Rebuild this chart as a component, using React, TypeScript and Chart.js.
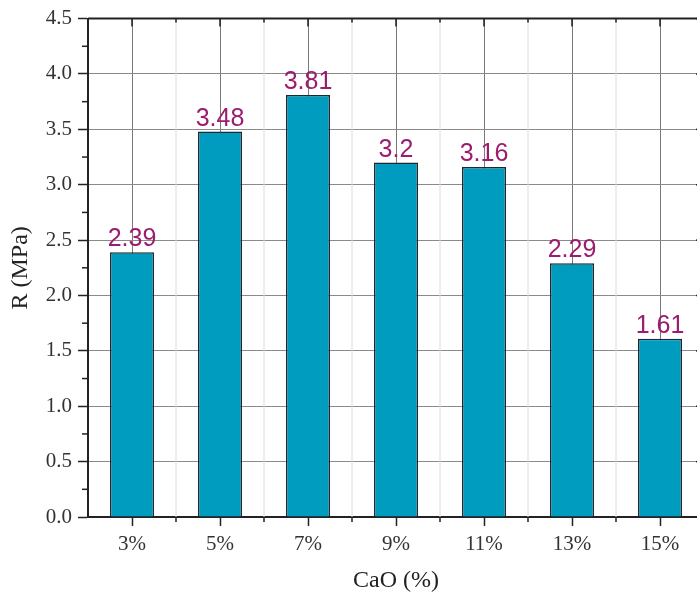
import React, { useEffect, useRef } from "react";
import { Chart, registerables } from "chart.js";

Chart.register(...registerables);

// CaO dosage vs. strength R
const categories = ["3%", "5%", "7%", "9%", "11%", "13%", "15%"];
const strength = [2.39, 3.48, 3.81, 3.2, 3.16, 2.29, 1.61];
const yTicks = [0, 0.5, 1, 1.5, 2, 2.5, 3, 3.5, 4, 4.5];

const AXIS = "#222222";
const SERIF = "'Liberation Serif', 'Times New Roman', serif";

// light lines between categories, minor ticks, top/right frame
const framePlugin = {
  id: "frame",
  beforeDatasetsDraw(chart: any) {
    const { ctx, chartArea: a, scales } = chart;
    const x = scales.x;
    ctx.save();
    ctx.strokeStyle = "#dcdcdc";
    ctx.lineWidth = 1;
    for (let i = 0; i < categories.length - 1; i++) {
      const px = (x.getPixelForValue(i) + x.getPixelForValue(i + 1)) / 2;
      ctx.beginPath();
      ctx.moveTo(px, a.top);
      ctx.lineTo(px, a.bottom);
      ctx.stroke();
    }
    ctx.restore();
  },
  afterDraw(chart: any) {
    const { ctx, chartArea: a, scales } = chart;
    const x = scales.x;
    const y = scales.y;
    ctx.save();
    ctx.strokeStyle = AXIS;
    ctx.lineWidth = 1.5;
    const line = (x1: number, y1: number, x2: number, y2: number) => {
      ctx.beginPath();
      ctx.moveTo(x1, y1);
      ctx.lineTo(x2, y2);
      ctx.stroke();
    };
    // x ticks: centres on top, boundaries top & bottom
    for (let i = 0; i < categories.length; i++) {
      const c = x.getPixelForValue(i);
      line(c, a.top, c, a.top + 8);
      if (i < categories.length - 1) {
        const b = (c + x.getPixelForValue(i + 1)) / 2;
        line(b, a.bottom, b, a.bottom + 5);
        line(b, a.top, b, a.top + 4);
      }
    }
    // y ticks: minor left, major+minor right
    for (let v = 0; v <= 4.5001; v += 0.25) {
      const py = y.getPixelForValue(v);
      const major = Math.abs(v * 2 - Math.round(v * 2)) < 1e-6;
      if (!major) line(a.left - 6, py, a.left, py);
      line(a.right, py, a.right - (major ? 8 : 4), py);
    }
    ctx.lineWidth = 2;
    line(a.left, a.top, a.right, a.top);
    line(a.right, a.top, a.right, a.bottom);
    ctx.restore();
  },
};

// value labels above bars
const labelPlugin = {
  id: "valueLabels",
  afterDatasetsDraw(chart: any) {
    const { ctx } = chart;
    const meta = chart.getDatasetMeta(0);
    ctx.save();
    ctx.fillStyle = "#9b1d6f";
    ctx.font = "25px 'Liberation Sans', Arial, sans-serif";
    ctx.textAlign = "center";
    ctx.textBaseline = "alphabetic";
    meta.data.forEach((bar: any, i: number) => {
      ctx.fillText(String(strength[i]), bar.x, bar.y - 6);
    });
    ctx.restore();
  },
};

export default function App() {
  const canvasRef = useRef<HTMLCanvasElement | null>(null);

  useEffect(() => {
    document.body.style.margin = "0";
    document.body.style.overflow = "hidden";
    const ctx = canvasRef.current?.getContext("2d");
    if (!ctx) return;

    const chart = new Chart(ctx, {
      type: "bar",
      data: {
        labels: categories,
        datasets: [
          {
            data: strength,
            backgroundColor: "#009cc0",
            borderColor: "#1a2a30",
            borderWidth: 1.5,
            barPercentage: 0.5,
            categoryPercentage: 1,
          },
        ],
      },
      options: {
        responsive: false,
        animation: false,
        devicePixelRatio: 1,
        layout: { padding: { top: 18, right: 8, left: 0, bottom: 0 } },
        plugins: { legend: { display: false }, tooltip: { enabled: false } },
        scales: {
          x: {
            offset: true,
            grid: {
              offset: false,
              color: "#7a7a7a",
              lineWidth: 1,
              tickColor: AXIS,
              tickLength: 9,
              tickWidth: 1.5,
            },
            border: { display: true, color: AXIS, width: 2 },
            ticks: {
              color: "#333333",
              padding: 6,
              font: { family: SERIF, size: 21 },
            },
            title: {
              display: true,
              text: "CaO (%)",
              color: "#222222",
              padding: { top: 0, bottom: 1 },
              font: { family: SERIF, size: 24 },
            },
            afterFit: (s: any) => {
              s.height = 79;
            },
          },
          y: {
            min: 0,
            max: 4.5,
            afterBuildTicks: (s: any) => {
              s.ticks = yTicks.map((v) => ({ value: v }));
            },
            grid: {
              color: "#8a8a8a",
              lineWidth: 1,
              tickColor: AXIS,
              tickLength: 10,
              tickWidth: 1.5,
            },
            border: { display: true, color: AXIS, width: 2 },
            ticks: {
              color: "#333333",
              padding: 6,
              font: { family: SERIF, size: 21 },
              callback: (v: any) => Number(v).toFixed(1),
            },
            title: {
              display: true,
              text: "R (MPa)",
              color: "#222222",
              padding: { top: 6, bottom: 0 },
              font: { family: SERIF, size: 24 },
            },
            afterFit: (s: any) => {
              s.width = 88;
            },
          },
        },
      },
      plugins: [framePlugin, labelPlugin],
    });

    return () => {
      chart.destroy();
    };
  }, []);

  return (
    <div style={{ width: 697, height: 596, overflow: "hidden", background: "#fff" }}>
      <canvas ref={canvasRef} width={712} height={596} style={{ width: 712, height: 596 }} />
    </div>
  );
}
